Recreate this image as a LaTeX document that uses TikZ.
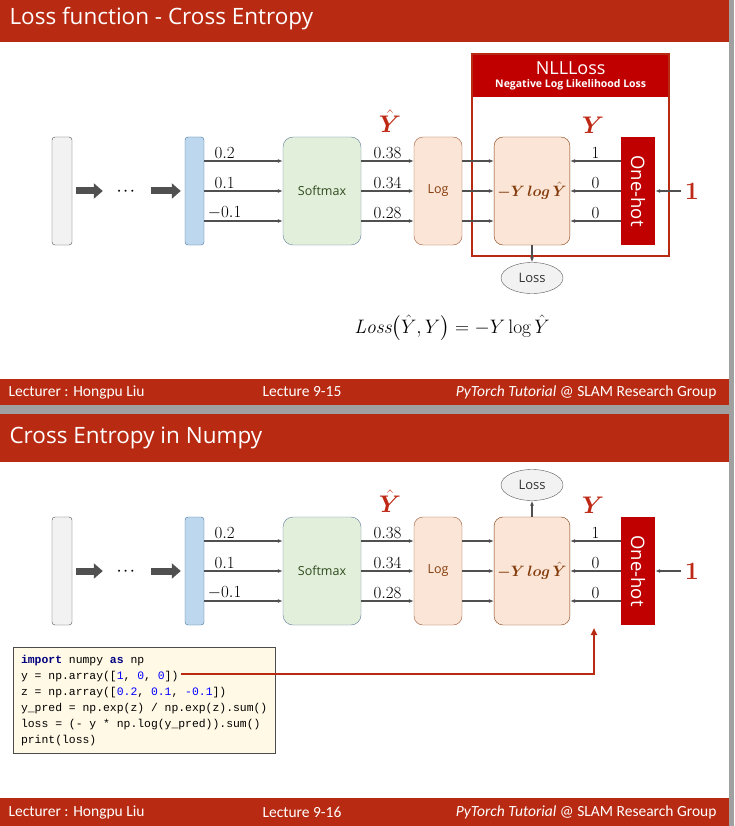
\RequirePackage{fix-cm}
\documentclass[tikz,border=0pt]{standalone}
\usepackage{amsmath,bm}
\usepackage{fontspec}
\newfontfamily\uisans{Open Sans}
\newfontfamily\footsans{Carlito}
\setmonofont{Liberation Mono}
\usetikzlibrary{arrows.meta,calc,shapes.geometric}

\definecolor{hdred}{RGB}{184,42,18}
\definecolor{nllred}{RGB}{192,0,0}
\definecolor{labred}{RGB}{190,40,20}
\definecolor{linegray}{RGB}{80,80,80}
\definecolor{sepgray}{RGB}{160,160,160}
\definecolor{layerfill}{RGB}{242,242,242}
\definecolor{hidfill}{RGB}{189,215,238}
\definecolor{hiddraw}{RGB}{65,113,156}
\definecolor{smfill}{RGB}{226,239,218}
\definecolor{smdraw}{RGB}{96,125,155}
\definecolor{smtext}{RGB}{45,75,30}
\definecolor{pchfill}{RGB}{251,229,214}
\definecolor{pchdraw}{RGB}{160,90,55}
\definecolor{pchtext}{RGB}{132,60,12}
\definecolor{codefill}{RGB}{255,249,230}
\definecolor{kwblue}{RGB}{0,0,128}
\definecolor{numblue}{RGB}{0,0,255}

\begin{document}
\begin{tikzpicture}[x=1pt, y=-1pt, >={Latex[length=5pt,width=4pt]},
	band/.style={fill=hdred},
	title/.style={anchor=west, text=white, font=\uisans\fontsize{22.5}{24}\selectfont},
	foot/.style={text=white, font=\footsans\fontsize{15.5}{16}\selectfont},
	flow/.style={draw=linegray, line width=1.2pt, ->},
	fat/.style={draw=linegray, line width=7pt, -{Triangle[length=9pt,width=15pt]}, shorten <=4pt, shorten >=4pt},
	layer/.style={draw=gray!60!black, fill=layerfill, rounded corners=3pt, minimum width=20pt, minimum height=108pt, inner sep=0pt},
	hidden/.style={layer, draw=hiddraw, fill=hidfill, minimum width=19pt},
	softbox/.style={draw=smdraw, fill=smfill, text=smtext, rounded corners=10pt, minimum width=78pt, minimum height=108pt, font=\uisans\fontsize{12.5}{14}\selectfont},
	pchbox/.style={draw=pchdraw, fill=pchfill, text=pchtext, rounded corners=9pt, minimum height=108pt, font=\uisans\fontsize{12.5}{14}\selectfont},
	onehot/.style={fill=nllred, text=white, minimum width=34pt, minimum height=108pt, inner sep=0pt, font=\uisans\fontsize{18.5}{19}\selectfont},
	redlab/.style={text=labred, font=\fontsize{24}{25}\selectfont},
	numlab/.style={above, inner sep=1.5pt, font=\fontsize{17}{17}\selectfont},
	lossell/.style={ellipse, draw=gray!70!black, fill=layerfill, minimum width=62pt, minimum height=31pt, inner sep=0pt, text=black!80, font=\uisans\fontsize{13}{14}\selectfont}]

\useasboundingbox (0,0) rectangle (734,826);
\fill[white] (0,0) rectangle (734,826);

% slide frames: title bands, footers, grey separators
\fill[band] (0,0) rectangle (729,42);
\fill[band] (0,379) rectangle (729,405);
\fill[band] (0,414) rectangle (729,462);
\fill[band] (0,798) rectangle (729,826);
\fill[sepgray] (729,0) rectangle (734,826);
\fill[sepgray] (0,405) rectangle (729,414);
\node[title] (title1) at (6,19) {Loss function - Cross Entropy};
\node[title] (title2) at (6,438) {Cross Entropy in Numpy};
\foreach \s/\yf/\lec in {1/392/9-15, 2/812/9-16} {
	\node[foot, anchor=west] (lect\s) at (5,\yf) {Lecturer : Hongpu Liu};
	\node[foot, anchor=west] (num\s) at (259,\yf) {Lecture \lec};
	\node[foot, anchor=east] (group\s) at (720,\yf) {\itshape PyTorch Tutorial\upshape{} @ SLAM Research Group};
}

% NLLLoss frame (first slide only)
\node[fill=nllred, text=white, anchor=north west, minimum width=197pt, minimum height=43pt, align=center, inner sep=0pt] (nll1) at (472,54)
	{{\uisans\fontsize{18}{20}\selectfont NLLLoss}\\[1pt]{\uisans\bfseries\fontsize{10.5}{12}\selectfont Negative Log Likelihood Loss}};
\draw[hdred, line width=2pt] (nll1.north west) rectangle ($(nll1.north east)+(0,202)$);

% the network, drawn the same way on both slides
\foreach \s/\yc in {1/191, 2/571} {
	\node[layer] (in\s) at (62,\yc) {};
	\node[minimum width=40pt, inner sep=0pt, font=\fontsize{13}{13}\selectfont] (dots\s) at (127,\yc) {$\bm{\cdots}$};
	\node[hidden] (hid\s) at (194.5,\yc) {};
	\node[softbox] (sm\s) at (322,\yc) {Softmax};
	\node[pchbox, minimum width=48pt] (lg\s) at (438,\yc) {Log};
	\node[pchbox, draw=pchtext, minimum width=70pt, font=\fontsize{15}{16}\selectfont] (ce\s) at (532,\yc) {$\bm{-Y\,log\,\hat{Y}}$};
	\node[onehot] (oh\s) at (638,\yc) {\rotatebox{-90}{One-hot}};
	\node[redlab, font=\fontsize{25}{26}\selectfont] (one\s) at (692,\yc) {$\bm{1}$};
	\node[redlab] (yhat\s) at (390,\yc-70) {$\bm{\hat{Y}}$};
	\node[redlab] (ylab\s) at (593,\yc-66) {$\bm{Y}$};
	\draw[fat] (in\s) -- (dots\s);
	\draw[fat] (dots\s) -- (hid\s);
	\draw[flow] (one\s) -- (oh\s);
	\foreach \dy/\z/\p/\t in {-30/0.2/0.38/1, 0/0.1/0.34/0, 30/-0.1/0.28/0} {
		\draw[flow] ($(hid\s.east)+(0,\dy)$) -- node[numlab, pos=0.26] {$\z$} ($(sm\s.west)+(0,\dy)$);
		\draw[flow] ($(sm\s.east)+(0,\dy)$) -- node[numlab] {$\p$} ($(lg\s.west)+(0,\dy)$);
		\draw[flow] ($(lg\s.east)+(0,\dy)$) -- ($(ce\s.west)+(0,\dy)$);
		\draw[flow] ($(oh\s.west)+(0,\dy)$) -- node[numlab] {$\t$} ($(ce\s.east)+(0,\dy)$);
	}
}

% slide 1: loss below, formula
\node[lossell] (loss1) at (532,278) {Loss};
\draw[flow] (ce1) -- (loss1);
\node[font=\fontsize{19.5}{20}\selectfont] (form1) at (452,328) {$\mathit{Loss}\bigl(\hat{Y},Y\bigr)=-Y\log\hat{Y}$};

% slide 2: loss above, numpy code
\node[lossell] (loss2) at (532,485) {Loss};
\draw[flow] (ce2) -- (loss2);
\node[draw=gray!60!black, fill=codefill, anchor=north west, minimum width=262pt, minimum height=106pt, align=left, inner sep=5pt,
	font=\ttfamily\fontsize{11.4}{16}\selectfont] (code) at (13,647)
	{{\color{kwblue}\bfseries import} numpy {\color{kwblue}\bfseries as} np\\
	y = np.array([{\color{numblue}1}, {\color{numblue}0}, {\color{numblue}0}])\\
	z = np.array([{\color{numblue}0.2}, {\color{numblue}0.1}, {\color{numblue}-0.1}])\\
	y\_pred = np.exp(z) / np.exp(z).sum()\\
	loss = (- y * np.log(y\_pred)).sum()\\
	print(loss)};
\coordinate (ytail) at (181,674);
\coordinate (yhead) at (594,628);
\draw[hdred, line width=2pt, -{Triangle[length=7pt,width=6pt]}] (ytail) -| (yhead);
\end{tikzpicture}
\end{document}
